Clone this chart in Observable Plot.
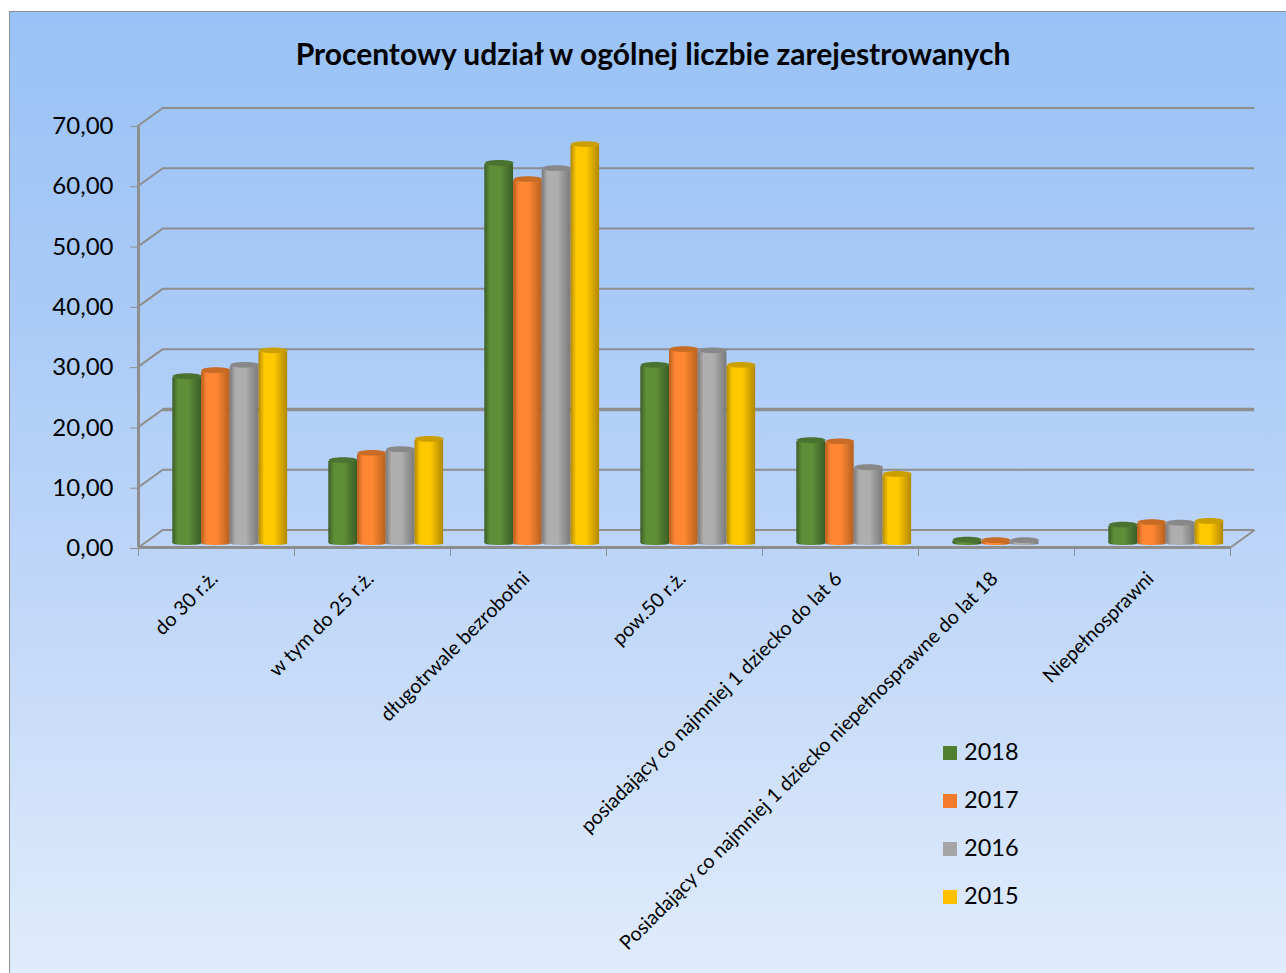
<!DOCTYPE html>
<html lang="pl">
<head>
<meta charset="utf-8">
<script src="https://cdn.jsdelivr.net/npm/d3@7"></script>
<script src="https://cdn.jsdelivr.net/npm/@observablehq/plot@0.6"></script>
<style>
  html, body { margin: 0; padding: 0; background: #fff; width: 1286px; height: 973px; overflow: hidden; }
  #frame { position: absolute; left: 9px; top: 11px; width: 1277px; height: 962px; box-sizing: border-box;
    border-left: 1px solid #8f8f8f; border-top: 1px solid #8f8f8f;
    background: linear-gradient(#99c2f6 0%, #a9caf7 30%, #c3d9f8 65%, #e0ecfc 100%); }
  #title { position: absolute; left: 0; top: 38px; width: 1306px; text-align: center; font: bold 30px Lato, sans-serif; color: #000; line-height: 30px; }
  #chart { position: absolute; left: 0; top: 0; }
  #chart svg { display: block; background: transparent; }
  #legend { position: absolute; left: 943px; top: 727px; font: 23.5px Lato, sans-serif; color: #000; }
  #legend div { height: 48px; line-height: 48px; white-space: nowrap; }
  #legend i { display: inline-block; width: 14px; height: 14px; margin-right: 7px; }
</style>
</head>
<body>
<div id="frame"></div>
<div id="chart"></div>
<div id="title">Procentowy udział w ogólnej liczbie zarejestrowanych</div>
<div id="legend"></div>
<script>
const categories = [
  "do 30 r.ż.",
  "w tym do 25 r.ż.",
  "długotrwale bezrobotni",
  "pow.50 r.ż.",
  "posiadający co najmniej 1 dziecko do lat 6",
  "Posiadający co najmniej 1 dziecko niepełnosprawne do lat 18",
  "Niepełnosprawni"
];
const years = ["2018", "2017", "2016", "2015"];
const values2018 = [27.5, 13.6, 62.9, 29.4, 16.9, 0.4, 2.9];
const values2017 = [28.5, 14.8, 60.2, 32.0, 16.7, 0.3, 3.3];
const values2016 = [29.4, 15.4, 62.0, 31.8, 12.4, 0.3, 3.2];
const values2015 = [31.8, 17.1, 66.0, 29.4, 11.3, 0.0, 3.5];
const yTicks = [0, 10, 20, 30, 40, 50, 60, 70];
const seriesValues = [values2018, values2017, values2016, values2015];
const edgeColors = ["#3b5d26", "#b4601f", "#7a7a7a", "#b08800"];
const midColors = ["#5f8e38", "#ff8633", "#aeaeae", "#ffc800"];
const capColors = ["#4a7230", "#c86c25", "#888888", "#cc9f00"];

const depthX = 0.155, depthY = 2.9;      // the chart's 3D wall offset, in scale units
const groupStart = 0.22, barWidth = 0.184;
const lift = -4;

const ellipse = aspect => ({
  draw(ctx, size) {
    const rx = Math.sqrt(size / Math.PI), ry = rx * aspect, k = 0.5523;
    ctx.moveTo(-rx, 0);
    ctx.bezierCurveTo(-rx, -ry * k, -rx * k, -ry, 0, -ry);
    ctx.bezierCurveTo(rx * k, -ry, rx, -ry * k, rx, 0);
    ctx.bezierCurveTo(rx, ry * k, rx * k, ry, 0, ry);
    ctx.bezierCurveTo(-rx * k, ry, -rx, ry * k, -rx, 0);
    ctx.closePath();
  }
});

const gray = "#8e8e8e";
const barMarks = seriesValues.flatMap((vals, j) => {
  const rows = vals.map((v, i) => ({ i, v })).filter(d => d.v > 0);
  const left = d => d.i + groupStart + j * barWidth;
  const fill = `url(#cyl${j})`;
  return [
    Plot.dot(rows, { x: d => left(d) + barWidth / 2, y: () => 0, r: 14.4, symbol: ellipse(0.1), fill, dy: lift }),
    Plot.rect(rows, { x1: left, x2: d => left(d) + barWidth, y1: () => 0, y2: d => d.v, fill, dy: lift }),
    Plot.dot(rows, { x: d => left(d) + barWidth / 2, y: d => d.v, r: 14.4, symbol: ellipse(0.2), fill: capColors[j], dy: lift - 1.5 })
  ];
});

const plot = Plot.plot({
  width: 1286, height: 973,
  marginLeft: 138, marginRight: 56, marginTop: 125, marginBottom: 426,
  x: { domain: [0, 7] },
  y: { domain: [0, 70] },
  style: { background: "transparent", fontFamily: "Lato, sans-serif", color: "#000" },
  marks: [
    Plot.ruleY(yTicks, { x1: depthX, x2: 7 + depthX, y: d => d + depthY, stroke: gray, strokeWidth: d => d === 20 ? 3.5 : 2 }),
    Plot.link(yTicks, { x1: 0, y1: d => d, x2: depthX, y2: d => d + depthY, stroke: gray, strokeWidth: 2 }),
    Plot.link([7], { x1: d => d, y1: 0, x2: d => d + depthX, y2: depthY, stroke: gray, strokeWidth: 2 }),
    Plot.ruleY([0], { x1: 0, x2: 7, stroke: gray, strokeWidth: 3 }),
    Plot.ruleX([0], { y1: 0, y2: 70, stroke: gray, strokeWidth: 3 }),
    Plot.axisY({ ticks: yTicks, tickSize: 8, tickPadding: 17, fontSize: 24, label: null, stroke: gray, color: "#000", dy: 1,
      tickFormat: d => d.toFixed(2).replace(".", ",") }),
    Plot.axisX({ ticks: d3.range(8), tickSize: 9, tickFormat: () => "", label: null, stroke: gray }),
    ...barMarks,
    Plot.text(categories, { x: (d, i) => i + 0.5, y: () => 0, text: d => d, rotate: -45, textAnchor: "end",
      fontSize: 19.7, fill: "#000", dy: 28, dx: -2 })
  ]
});

// cylinder shading for the bars
const defs = d3.select(plot).append("defs");
midColors.forEach((mid, j) => {
  const g = defs.append("linearGradient").attr("id", `cyl${j}`);
  [[0, edgeColors[j]], [0.2, mid], [0.55, mid], [1, edgeColors[j]]].forEach(([o, c]) =>
    g.append("stop").attr("offset", o).attr("stop-color", c));
});
document.getElementById("chart").append(plot);

const legendColors = ["#4f7f2f", "#f47b2c", "#a5a5a5", "#ffc000"];
d3.select("#legend").selectAll("div").data(years).join("div")
  .html((d, i) => `<i style="background:${legendColors[i]}"></i>${d}`);
</script>
</body>
</html>
